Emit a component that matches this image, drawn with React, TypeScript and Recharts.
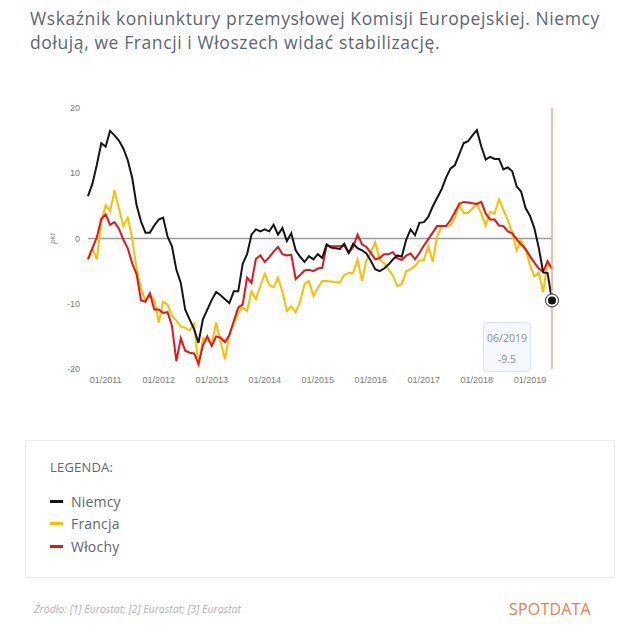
import React from 'react';
import { LineChart, Line, XAxis, YAxis, ReferenceLine, Tooltip } from 'recharts';

const START_YEAR = 2010;
const START_MONTH = 9;

const germany = [
  6.5, 8.4, 11.3, 14.6, 14.1, 16.5, 15.8, 15.0, 13.8, 12.0,
  9.3, 5.1, 2.6, 0.9, 0.9, 2.0, 2.9, 3.2, 0.3, -1.2,
  -4.8, -6.8, -10.9, -12.4, -13.9, -16.0, -12.4, -10.9, -9.4, -8.2,
  -8.7, -9.3, -9.9, -8.1, -8.1, -3.9, -2.4, 0.6, 1.4, 1.1,
  1.4, 1.1, 2.1, 0.6, 1.6, -0.4, 0.8, -1.8, -2.8, -3.6,
  -2.7, -3.2, -2.4, -3.0, -0.9, -1.4, -1.5, -1.6, -0.8, -2.2,
  -0.8, -1.5, -1.8, -2.3, -3.4, -4.7, -5.0, -4.6, -4.0, -3.2,
  -2.6, -2.8, -0.2, 1.4, 0.5, 2.4, 2.5, 3.3, 4.9, 6.2,
  7.5, 9.3, 10.7, 11.2, 12.9, 14.6, 14.9, 15.8, 16.6, 14.1,
  12.1, 12.5, 12.2, 12.2, 10.6, 10.9, 10.3, 8.0, 7.2, 4.7,
  3.5, 1.6, -1.4, -5.2, -5.3, -9.5,
];

const france = [
  -3.1, -1.5, -3.2, 2.5, 5.1, 4.2, 7.4, 4.6, 1.9, 3.2,
  0.0, -4.6, -7.8, -9.5, -8.6, -9.4, -12.9, -9.7, -10.1, -11.8,
  -12.6, -13.5, -13.7, -14.1, -13.1, -19.8, -15.3, -15.5, -16.2, -12.9,
  -15.8, -18.5, -14.6, -13.1, -11.3, -10.6, -11.1, -8.1, -9.3, -7.3,
  -5.4, -7.1, -7.5, -6.0, -8.2, -11.1, -10.4, -11.3, -9.7, -7.0,
  -6.5, -8.8, -7.6, -6.5, -6.5, -6.6, -6.7, -6.7, -5.6, -5.3,
  -5.3, -3.2, -6.5, -3.3, -2.2, -0.6, -3.2, -3.8, -4.7, -5.7,
  -7.3, -7.0, -5.0, -4.7, -4.2, -3.4, -3.3, -1.2, -3.6, 0.3,
  1.8, 1.9, 2.0, 3.1, 5.3, 3.9, 3.9, 4.6, 5.4, 3.8,
  2.0, 4.1, 3.8, 6.0, 4.4, 2.8, 0.9, -1.8, -0.3, -1.6,
  -4.0, -5.8, -5.2, -8.2, -3.5, -4.5,
];

const italy = [
  -3.2, -1.5, 0.2, 3.0, 3.7, 2.1, 2.5, 1.5, -0.2, -1.5,
  -3.8, -5.5, -9.5, -9.7, -8.4, -10.9, -10.9, -11.4, -11.3, -13.4,
  -18.8, -15.3, -17.2, -17.5, -17.6, -19.2, -16.4, -15.0, -16.5, -15.0,
  -15.2, -15.9, -14.8, -12.6, -10.6, -10.1, -6.0, -6.8, -3.1, -2.6,
  -3.6, -2.9, -2.0, -1.3, -2.4, -2.6, -2.5, -6.2, -5.6, -4.9,
  -4.8, -5.0, -4.6, -4.5, -1.1, -1.2, -1.2, -1.2, -1.1, -2.2,
  -1.3, 0.6, -0.9, -1.3, -2.2, -3.2, -3.0, -2.4, -2.4, -2.1,
  -3.0, -3.3, -2.6, -2.3, -3.2, -2.2, -1.1, -0.1, 0.9, 1.9,
  1.9, 1.9, 2.8, 4.0, 5.3, 5.6, 5.5, 5.4, 5.3, 5.6,
  3.8, 2.9, 2.9, 2.0, 1.9, 1.1, 0.8, -0.1, -0.9, -1.6,
  -2.7, -3.7, -4.6, -5.1, -3.5, -4.7,
];

const yTicks = [-20, -10, 0, 10, 20];
const xTickLabels = ['01/2011', '01/2012', '01/2013', '01/2014', '01/2015', '01/2016', '01/2017', '01/2018', '01/2019'];

const seriesKeys = ['fr', 'it', 'de'];
const seriesNames: Record<string, string> = { de: 'Niemcy', fr: 'Francja', it: 'Włochy' };
const seriesColors: Record<string, string> = { de: '#151515', fr: '#ffbd00', it: '#e8131b' };
const legendOrder = ['de', 'fr', 'it'];

const months = germany.map((_, i) => {
  const m = START_MONTH - 1 + i;
  const y = START_YEAR + Math.floor(m / 12);
  const mm = (m % 12) + 1;
  return `${String(mm).padStart(2, '0')}/${y}`;
});

const data = months.map((month, i) => ({ month, de: germany[i], fr: france[i], it: italy[i] }));

const TITLE_COLOR = '#5d6573';

const TooltipBox = (props: any) => {
  const { active, payload, label } = props;
  if (!active || !payload || !payload.length) return null;
  const p = payload.find((d: any) => d.dataKey === 'de');
  return (
    <div
      style={{
        width: 48,
        height: 50,
        boxSizing: 'border-box',
        background: '#f5f8fd',
        border: '1px solid #dbe4f1',
        borderRadius: 4,
        fontFamily: '"Open Sans", sans-serif',
        fontSize: 10.5,
        color: '#8b909a',
        textAlign: 'center',
        paddingTop: 5,
        lineHeight: '21px',
      }}
    >
      <div>{label}</div>
      <div>{p ? p.value : ''}</div>
    </div>
  );
};

const EndDot = (props: any) => {
  const { cx, cy } = props;
  if (cx == null || cy == null) return null;
  return (
    <g>
      <circle cx={cx} cy={cy} r={6.5} fill="#ffffff" stroke="#222" strokeWidth={1} />
      <circle cx={cx} cy={cy} r={4} fill="#111" />
    </g>
  );
};

const axisTick = { fontSize: 9, fill: '#7a7a7a', fontFamily: '"Liberation Sans", Arial, sans-serif' };

export default function App() {
  return (
    <div style={{ position: 'relative', width: 640, height: 636, background: '#fff', overflow: 'hidden' }}>
      <style>{'body{margin:0;}'}</style>
      <div
        style={{
          position: 'absolute',
          left: 30,
          top: 6,
          fontFamily: '"Open Sans", sans-serif',
          fontSize: 17.5,
          letterSpacing: 0.6,
          lineHeight: '24px',
          color: TITLE_COLOR,
          whiteSpace: 'nowrap',
        }}
      >
        <div>Wskaźnik koniunktury przemysłowej Komisji Europejskiej. Niemcy</div>
        <div>dołują, we Francji i Włoszech widać stabilizację.</div>
      </div>

      <div style={{ position: 'absolute', left: 0, top: 0 }}>
        <LineChart width={640} height={400} data={data} margin={{ top: 108, right: 88, bottom: 1, left: 16 }}>
          <XAxis
            dataKey="month"
            ticks={xTickLabels}
            interval={0}
            axisLine={false}
            tickLine={false}
            tick={axisTick}
          />
          <YAxis
            width={72}
            domain={[-20, 20]}
            ticks={yTicks}
            axisLine={false}
            tickLine={false}
            tick={axisTick}
            label={{
              value: 'pkt',
              angle: -90,
              position: 'center',
              style: { fontStyle: 'italic', fontSize: 8, fill: '#8a8a8a', fontFamily: '"Liberation Sans", Arial, sans-serif' },
            }}
          />
          <ReferenceLine y={0} stroke="#9c9c9c" strokeWidth={1.5} />
          <Tooltip
            defaultIndex={data.length - 1}
            position={{ x: 483, y: 322 }}
            cursor={{ stroke: '#f3a68c', strokeWidth: 1.5 }}
            content={<TooltipBox />}
            isAnimationActive={false}
            wrapperStyle={{ outline: 'none' }}
          />
          {seriesKeys.map((k) => (
            <Line
              key={k}
              type="linear"
              dataKey={k}
              name={seriesNames[k]}
              stroke={seriesColors[k]}
              strokeWidth={2}
              dot={false}
              activeDot={k === 'de' ? <EndDot /> : false}
              isAnimationActive={false}
            />
          ))}
        </LineChart>
      </div>

      <div
        style={{
          position: 'absolute',
          left: 25,
          top: 440,
          width: 590,
          height: 138,
          boxSizing: 'border-box',
          border: '1px solid #ececec',
          borderRadius: 4,
          boxShadow: '0 1px 2px rgba(0,0,0,0.04)',
          fontFamily: '"Open Sans", sans-serif',
          color: TITLE_COLOR,
        }}
      >
        <div style={{ position: 'absolute', left: 24, top: 17, fontSize: 13, letterSpacing: 0.2, lineHeight: '18px' }}>LEGENDA:</div>
        {legendOrder.map((k, i) => (
          <div
            key={k}
            style={{
              position: 'absolute',
              left: 24,
              top: 49 + i * 22.5,
              height: 22,
              display: 'flex',
              alignItems: 'center',
              fontSize: 14,
              letterSpacing: 0.2,
            }}
          >
            <span style={{ display: 'inline-block', width: 13, height: 3, background: seriesColors[k], marginRight: 8 }} />
            <span>{seriesNames[k]}</span>
          </div>
        ))}
      </div>

      <div
        style={{
          position: 'absolute',
          left: 34,
          top: 602,
          fontFamily: '"Open Sans", sans-serif',
          fontStyle: 'italic',
          fontSize: 10.5,
          color: '#b3b3b3',
          whiteSpace: 'nowrap',
        }}
      >
        Źródło: [1] Eurostat; [2] Eurostat; [3] Eurostat
      </div>
      <div
        style={{
          position: 'absolute',
          left: 509,
          top: 598,
          fontFamily: '"Open Sans", sans-serif',
          fontSize: 16,
          color: '#f07d4c',
          letterSpacing: 0.2,
          whiteSpace: 'nowrap',
        }}
      >
        SPOTDATA
      </div>
    </div>
  );
}
